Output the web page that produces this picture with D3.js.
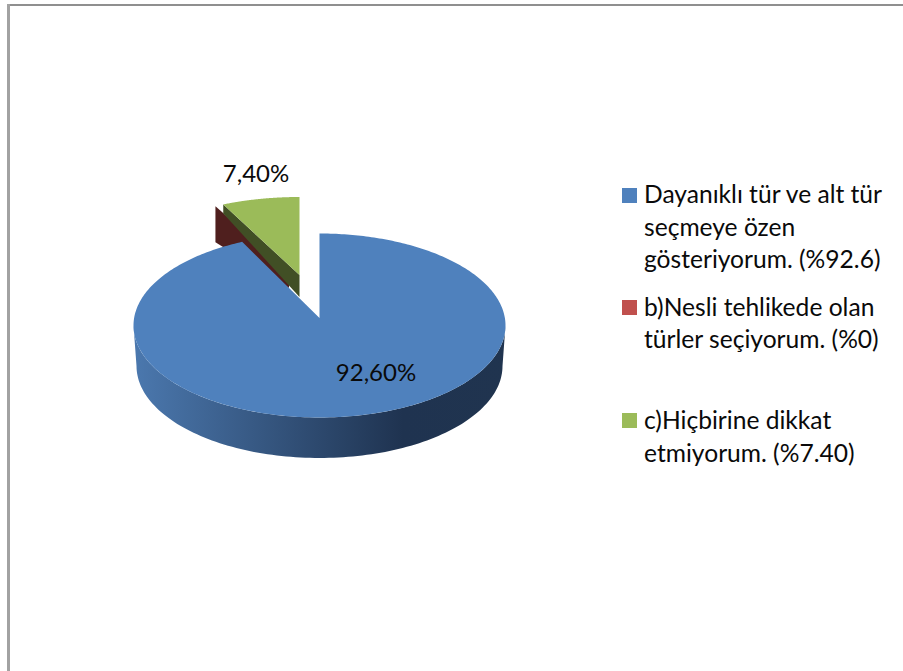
<!DOCTYPE html>
<html>
<head>
<meta charset="utf-8">
<script src="https://cdn.jsdelivr.net/npm/d3@7"></script>
<style>
  html, body { margin: 0; padding: 0; background: #fff; }
  svg { display: block; }
  text { font-family: Lato, "Open Sans", sans-serif; fill: #0a0a0a; }
</style>
</head>
<body>
<svg id="chart" width="903" height="671"></svg>
<script>
// Survey answers, in percent
const categories = ["a", "b", "c"];
const shares = [92.6, 0, 7.4];
const sliceLabels = ["92,60%", null, "7,40%"];
const legendLines = [
  ["Dayanıklı tür ve alt tür", "seçmeye özen", "gösteriyorum. (%92.6)"],
  ["b)Nesli tehlikede olan", "türler seçiyorum. (%0)"],
  ["c)Hiçbirine dikkat", "etmiyorum. (%7.40)"]
];
const topColors = ["#4f81bd", "#c0504d", "#9bbb59"];
const wallColors = [null, "#4f1f1e", "#414f25"];

const svg = d3.select("#chart");
const W = 903, H = 671;

// Frame: only the top and left rules are visible
svg.append("rect").attr("x", 7).attr("y", 4).attr("width", W - 7).attr("height", 2).attr("fill", "#8f8f8f");
svg.append("rect").attr("x", 7).attr("y", 4).attr("width", 3).attr("height", H - 4).attr("fill", "#a2a2a2");

const slices = d3.pie().sort(null).value(d => d)(shares);

// Oblique projection of a pie: angle 0 at the top, clockwise.
// The optional warp term bends angles slightly for the perspective of the tilted disc.
const project = (e, a) => {
  const t = a - (e.warp || 0) * Math.sin(a);
  return [e.cx + e.rx * Math.sin(t), e.cy - e.ry * Math.cos(t)];
};
const arcPoints = (e, a0, a1, n = 120) =>
  d3.range(n + 1).map(i => project(e, a0 + (a1 - a0) * i / n));
const line = d3.line();

// Ellipses of the large slice and of its base, and the pulled-out slices
const mainTop = { cx: 319.5, cy: 325.5, rx: 186, ry: 92, warp: 0.08 };
const mainBase = { cx: 319.5, cy: 366, rx: 183, ry: 92 };
const mainApex = [319.5, 318];
const greenTop = { cx: 299.5, cy: 267, rx: 170, ry: 70 };
const greenApex = [299.5, 275];
const redTop = { cx: 289, cy: 285, rx: 164, ry: 88 };
const redApex = [289, 271];

const defs = svg.append("defs");
const grad = defs.append("linearGradient")
  .attr("id", "wallShade")
  .attr("gradientUnits", "userSpaceOnUse")
  .attr("x1", 134).attr("x2", 505).attr("y1", 0).attr("y2", 0);
[[0, "#4b78ae"], [0.725, "#1f3350"], [1, "#20344f"]].forEach(([o, c]) =>
  grad.append("stop").attr("offset", o).attr("stop-color", c));

const g = svg.append("g");

// Wall of a cut edge, running from the outer rim in to the apex
function cutWall(e, apex, angle, depthOuter, depthInner, fill) {
  const rim = project(e, angle);
  g.append("path")
    .attr("d", line([rim, apex, [apex[0], apex[1] + depthInner], [rim[0], rim[1] + depthOuter]]) + "Z")
    .attr("fill", fill);
}

// Empty slice: only its wall shows
cutWall(redTop, redApex, slices[1].startAngle, 36, 17, wallColors[1]);

// Small slice: wall, then top face
cutWall(greenTop, greenApex, slices[2].startAngle, 9, 22, wallColors[2]);
g.append("path")
  .attr("d", line([greenApex, ...arcPoints(greenTop, slices[2].startAngle, slices[2].endAngle)]) + "Z")
  .attr("fill", topColors[2]);

// Large slice: curved wall along the front, then top face
const front = arcPoints({ ...mainTop, warp: 0 }, Math.PI / 2, 3 * Math.PI / 2);
const frontBase = arcPoints(mainBase, 3 * Math.PI / 2, Math.PI / 2);
g.append("path")
  .attr("d", line([...front, ...frontBase]) + "Z")
  .attr("fill", "url(#wallShade)");
g.append("path")
  .attr("d", line([mainApex, ...arcPoints(mainTop, slices[0].startAngle, slices[0].endAngle, 360)]) + "Z")
  .attr("fill", topColors[0]);

// Value labels
const labelPos = [[376, 381], null, [256, 182]];
sliceLabels.forEach((t, i) => {
  if (!t) return;
  svg.append("text")
    .attr("x", labelPos[i][0]).attr("y", labelPos[i][1])
    .attr("text-anchor", "middle")
    .attr("font-size", 24)
    .text(t);
});

// Legend
const legendRows = [
  { swatchY: 188, baselines: [203, 236, 268] },
  { swatchY: 300, baselines: [316, 348] },
  { swatchY: 413, baselines: [429, 462] }
];
const legend = svg.append("g");
legendRows.forEach((row, i) => {
  legend.append("rect")
    .attr("x", 622).attr("y", row.swatchY)
    .attr("width", 15).attr("height", 15)
    .attr("fill", topColors[i]);
  legendLines[i].forEach((t, j) => {
    legend.append("text")
      .attr("x", 644).attr("y", row.baselines[j])
      .attr("font-size", 24.6)
      .text(t);
  });
});
</script>
</body>
</html>
